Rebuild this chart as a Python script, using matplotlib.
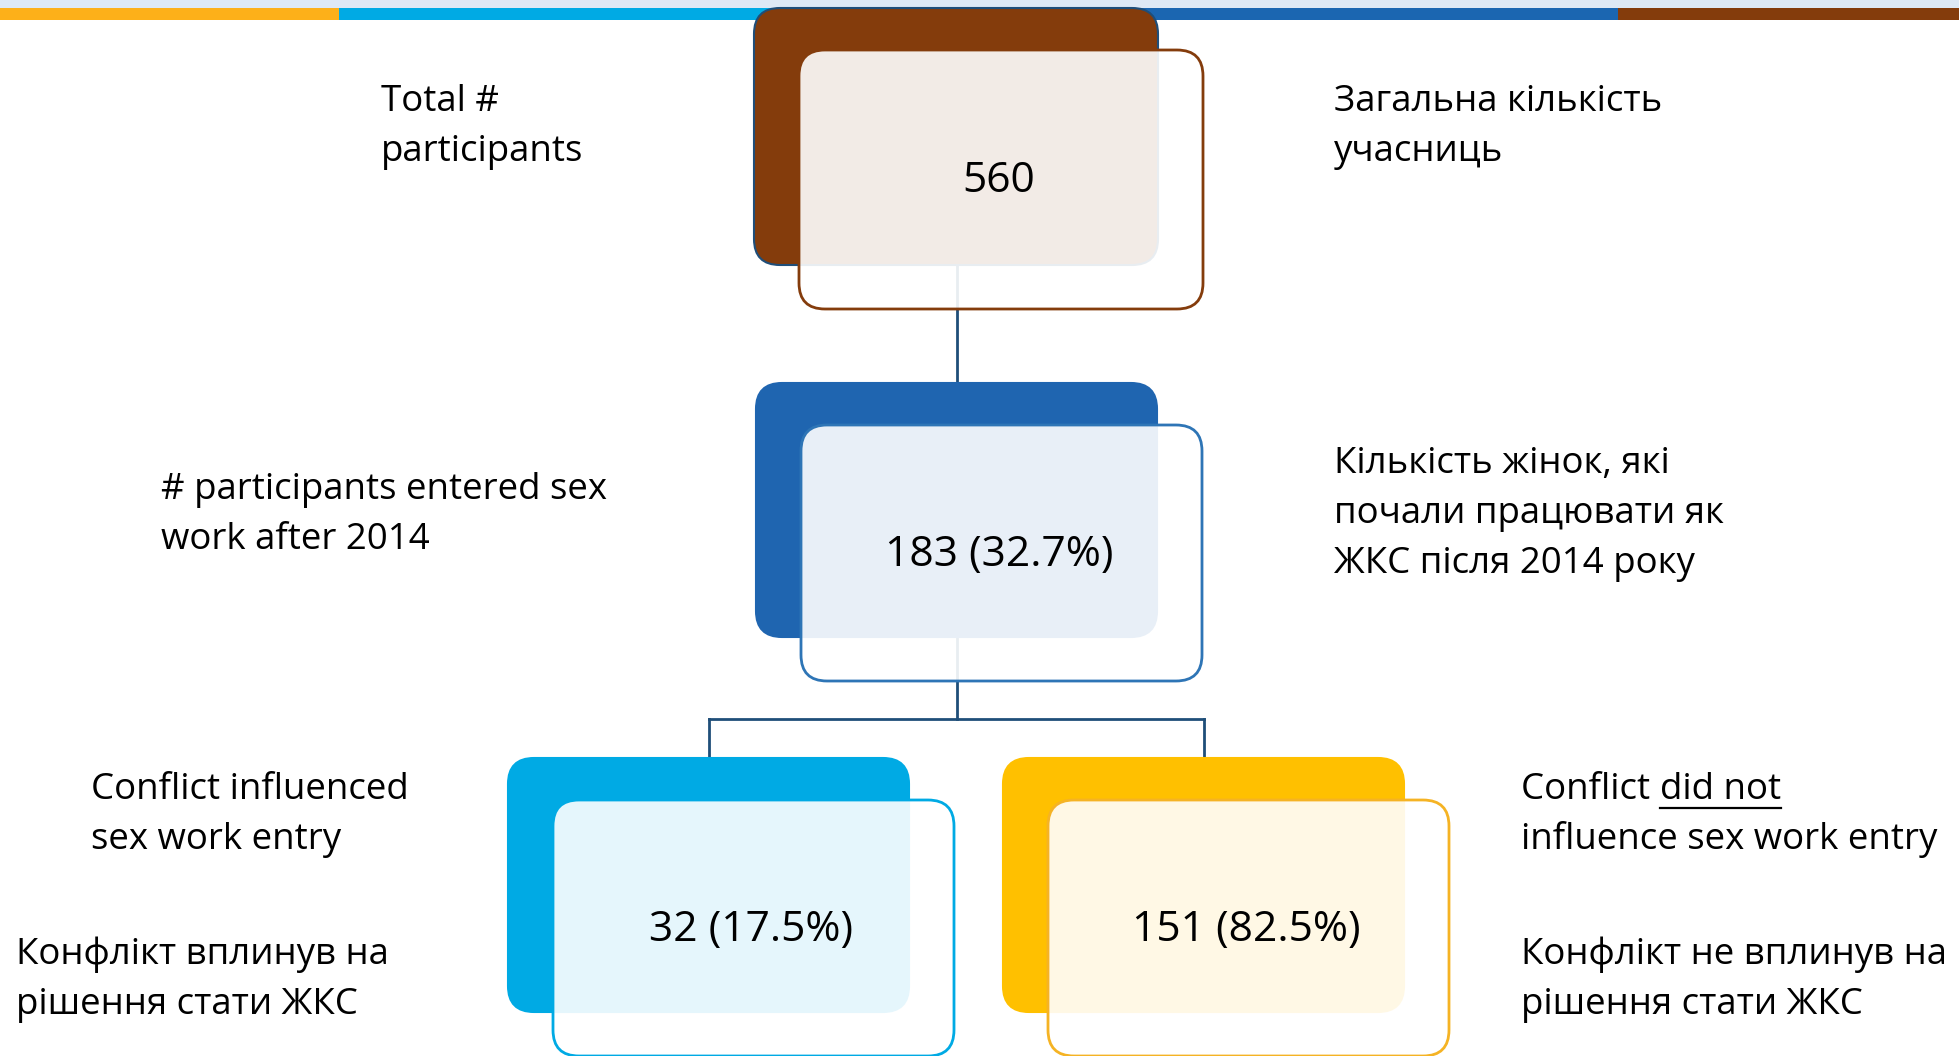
import matplotlib.pyplot as plt
from matplotlib.patches import FancyBboxPatch, Rectangle

plt.rcParams['font.family'] = ['Open Sans', 'DejaVu Sans']

# data
counts = [560, 183, 32, 151]
shares = [None, 32.7, 17.5, 82.5]
labels_en = ['Total #\nparticipants',
             '# participants entered sex\nwork after 2014',
             'Conflict influenced\nsex work entry',
             'Conflict did not\ninfluence sex work entry']
labels_uk = ['Загальна кількість\nучасниць',
             'Кількість жінок, які\nпочали працювати як\nЖКС після 2014 року',
             'Конфлікт вплинув на\nрішення стати ЖКС',
             'Конфлікт не вплинув на\nрішення стати ЖКС']

back_colors = ['#843c0c', '#1f65b0', '#00aae4', '#ffc000']
edge_colors = ['#843c0c', '#2e75b6', '#00aae4', '#f5b324']
stripe_colors = ['#fdb019', '#00aae4', '#1b66b1', '#843c0c']

W, H = 1959, 1056
fig = plt.figure(figsize=(W / 100, H / 100), dpi=100)
ax = fig.add_axes([0, 0, 1, 1])
ax.set_xlim(0, W)
ax.set_ylim(H, 0)
ax.axis('off')

# top stripe
ax.add_patch(Rectangle((0, 0), W, 8, color='#dee9f5', lw=0, zorder=0))
edges = [0, 339, 979, 1618, W]
for i, c in enumerate(stripe_colors):
    ax.add_patch(Rectangle((edges[i], 8), edges[i + 1] - edges[i], 12, color=c, lw=0, zorder=1))

# box layout: (back x0, y0, x1, y1), front offset
boxes = [(754, 8, 1158, 265), (756, 383, 1157, 637), (508, 758, 909, 1012), (1003, 758, 1404, 1012)]
dx, dy = 45, 42


def rbox(x0, y0, x1, y1, **kw):
    return FancyBboxPatch((x0, y0), x1 - x0, y1 - y0,
                          boxstyle='round,pad=0,rounding_size=26', **kw)


for i, (x0, y0, x1, y1) in enumerate(boxes):
    ax.add_patch(rbox(x0, y0, x1, y1, facecolor=back_colors[i],
                      edgecolor='#1f4e79' if i == 0 else back_colors[i], lw=1.5, zorder=3))
    ax.add_patch(rbox(x0 + dx, y0 + dy, x1 + dx, y1 + dy + 2, facecolor=(1, 1, 1, 0.9),
                      edgecolor=edge_colors[i], lw=2, zorder=4))
    cx = (x0 + x1 + dx) / 2 + 20
    cy = (y0 + y1) / 2 + 45
    txt = str(counts[i]) if shares[i] is None else f'{counts[i]} ({shares[i]}%)'
    ax.text(cx, cy, txt, fontsize=30.6, ha='center', va='center', zorder=6)

# connectors
line_kw = dict(color='#1f4e79', lw=2, zorder=2)
ax.plot([957, 957], [265, 383], **line_kw)
ax.plot([957, 957], [637, 719], **line_kw)
ax.plot([709, 1204], [719, 719], **line_kw)
ax.plot([709, 709], [719, 758], **line_kw)
ax.plot([1204, 1204], [719, 758], **line_kw)

# side labels
fs = 26.4
ls = 1.52
txt_kw = dict(fontsize=fs, ha='left', va='center', linespacing=ls, zorder=6)
ax.text(381, 127, labels_en[0], **txt_kw)
ax.text(1334, 127, labels_uk[0], **txt_kw)
ax.text(161, 515, labels_en[1], **txt_kw)
ax.text(1334, 514, labels_uk[1], **txt_kw)
ax.text(91, 815, labels_en[2], **txt_kw)
ax.text(16, 980, labels_uk[2], **txt_kw)
ax.text(1521, 980, labels_uk[3], **txt_kw)

# right label with underlined "did not"
first, second = labels_en[3].split('\n')
pre = 'Conflict '
t1 = ax.text(1521, 790, pre, fontsize=fs, ha='left', va='center', zorder=6)
ax.text(1521, 840, second, fontsize=fs, ha='left', va='center', zorder=6)
fig.canvas.draw()
r = fig.canvas.get_renderer()
bb = t1.get_window_extent(r).transformed(ax.transData.inverted())
x_start = max(bb.x0, bb.x1)
t2 = ax.text(x_start, 790, first[len(pre):], fontsize=fs, ha='left', va='center', zorder=6)
fig.canvas.draw()
bb2 = t2.get_window_extent(r).transformed(ax.transData.inverted())
ax.plot([min(bb2.x0, bb2.x1), max(bb2.x0, bb2.x1)], [808, 808], color='black', lw=1.6, zorder=6)

fig.savefig('out.png', dpi=100)
